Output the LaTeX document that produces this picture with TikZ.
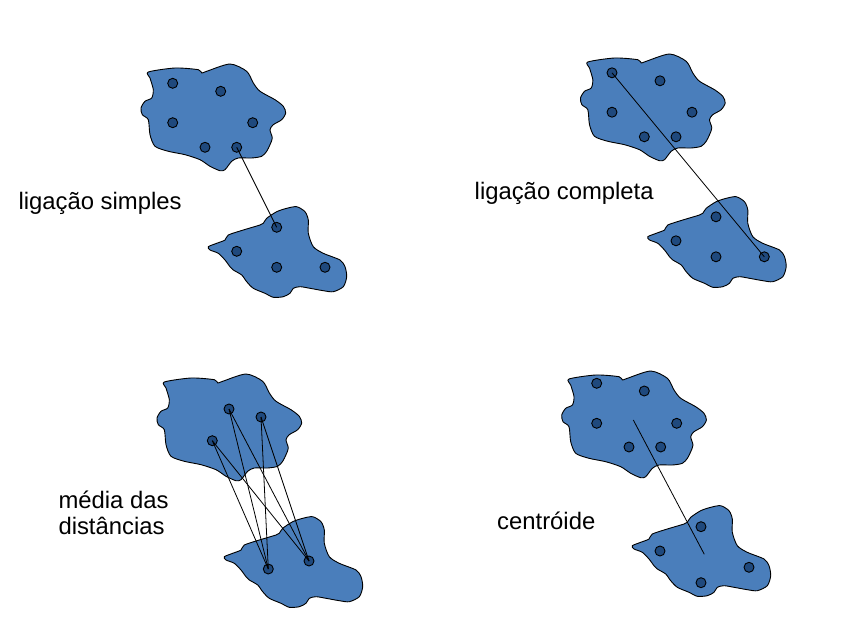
\documentclass[tikz,border=0pt]{standalone}
\usepackage{fontspec}
\setmainfont{Liberation Sans}
\definecolor{blobfill}{RGB}{74,126,187}
\definecolor{dotfill}{RGB}{31,73,125}
\tikzset{
  blob/.style={draw=black, line width=0.9pt, fill=blobfill, line join=round},
  pt/.style={circle, draw=black, line width=0.9pt, fill=dotfill, minimum size=10pt, inner sep=0pt},
  link/.style={draw=black, line width=0.8pt},
  lab/.style={font=\fontsize{23.85}{26}\selectfont, anchor=base west, inner sep=0pt, text=black},
  topblob/.pic={\path[blob] plot[smooth cycle, tension=0.45] coordinates {
    (148.3,72) (175,68) (198.3,69.7) (201.7,73) (206.7,71.3) (230,64) (246.7,71.3) (253.3,83) (260,91.3) (275,99.7) (283.3,106.3) (285.7,113) (281.7,119.7) (273.3,124.7) (270,129.7) (272.3,138) (270,144.7) (266.7,151.3) (261.7,156.3) (251.7,158) (238.3,158) (231.7,161.3) (225,169.7) (220,170.7) (210,166.3) (200,159.7) (185,154.7) (168.3,151.3) (155,146.3) (150,134.7) (148.3,119.7) (142.3,114.7) (141,108) (145,101.3) (151.7,98) (153.3,89.7) (150,78)};},
  botblob/.pic={\path[blob] plot[smooth cycle, tension=0.45] coordinates {
    (208.3,246.7) (216.7,243.3) (225,240) (228.3,235) (243.3,230) (260,225) (263.3,223.3) (266.7,218.3) (276.7,211.7) (286.7,208.3) (296.7,206.7) (305,211.7) (308.3,220) (308.3,233.3) (313.3,246.7) (323.3,253.3) (340,260) (345,266.7) (346.7,276.7) (343.3,286.7) (333.3,291.7) (323.3,290.7) (310,288.3) (300,286.7) (293.3,288.3) (290,293.3) (283.3,296.7) (273.3,297.3) (265,293.3) (253.3,288.3) (246.7,281.7) (241.7,275) (233.3,270) (230,266.7) (225,260) (218.3,253.3) (210,250)};}
}
\begin{document}
\begin{tikzpicture}[x=1pt, y=-1pt]
\useasboundingbox (0,0) rectangle (864,631);

% ---------- panel 1: ligacao simples ----------
\pic at (0,0) {topblob};
\pic at (0,0) {botblob};
\node[pt] (s1) at (172.7,83.3) {};
\node[pt] (s2) at (220.7,91.3) {};
\node[pt] (s3) at (172.7,122.7) {};
\node[pt] (s4) at (252.7,122.7) {};
\node[pt] (s5) at (205,147.3) {};
\node[pt] (s6) at (236.7,147.3) {};
\node[pt] (t1) at (276.7,227.3) {};
\node[pt] (t2) at (236.7,251.3) {};
\node[pt] (t3) at (276.7,267.3) {};
\node[pt] (t4) at (325,267.3) {};
\draw[link] (s6.center) -- (t1.center);
\node[lab] (l1) at (18.3,209.3) {ligação simples};

% ---------- panel 2: ligacao completa ----------
\pic at (439.5,-10) {topblob};
\pic at (439.5,-10) {botblob};
\node[pt] (c1) at (612,72.8) {};
\node[pt] (c2) at (660,80.8) {};
\node[pt] (c3) at (612,112.2) {};
\node[pt] (c4) at (692,112.2) {};
\node[pt] (c5) at (644.3,136.8) {};
\node[pt] (c6) at (676,136.8) {};
\node[pt] (d1) at (716,216.8) {};
\node[pt] (d2) at (676,240.8) {};
\node[pt] (d3) at (716,256.8) {};
\node[pt] (d4) at (764.3,256.8) {};
\draw[link] (c1.center) -- (d4.center);
\node[lab] (l2) at (474.5,199.3) {ligação completa};

% ---------- panel 3: media das distancias ----------
\pic at (16,310) {topblob};
\pic at (16,310) {botblob};
\node[pt] (m1) at (229,409) {};
\node[pt] (m2) at (261,417) {};
\node[pt] (m3) at (212.3,440.7) {};
\node[pt] (n1) at (268.3,569) {};
\node[pt] (n2) at (309,561) {};
\foreach \u in {m1,m2,m3}{
  \foreach \v in {n1,n2}{
    \draw[link] (\u.center) -- (\v.center);
  }
}
\node[lab, align=left] (l3) at (58.3,534.5) {média das\\distâncias};

% ---------- panel 4: centroide ----------
\pic at (420.7,307) {topblob};
\pic at (424,299) {botblob};
\node[pt] (p1) at (596.7,383.3) {};
\node[pt] (p2) at (644.3,391) {};
\node[pt] (p3) at (596.7,423.3) {};
\node[pt] (p4) at (676.7,423.3) {};
\node[pt] (p5) at (629,447) {};
\node[pt] (p6) at (660.7,447) {};
\node[pt] (q1) at (701,526.7) {};
\node[pt] (q2) at (660,551) {};
\node[pt] (q3) at (749,567.3) {};
\node[pt] (q4) at (701,582.7) {};
\coordinate (g1) at (633.3,420);
\coordinate (g2) at (704.3,554.3);
\draw[link] (g1) -- (g2);
\node[lab] (l4) at (497,529.3) {centróide};
\end{tikzpicture}
\end{document}
